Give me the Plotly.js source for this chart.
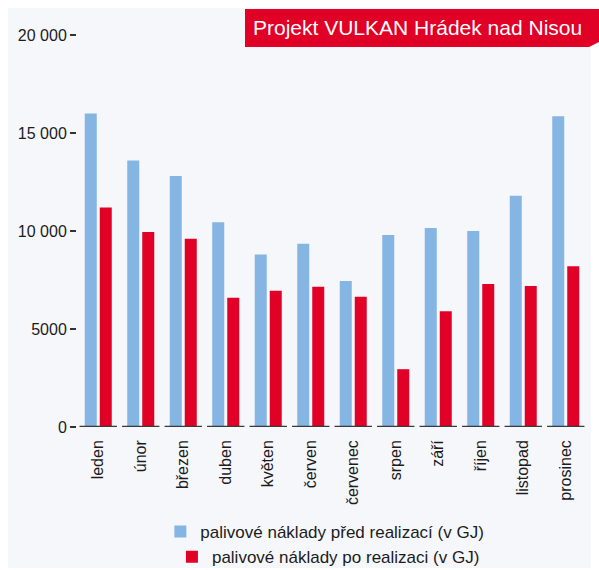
<!DOCTYPE html>
<html>
<head>
<meta charset="utf-8">
<script src="https://cdn.plot.ly/plotly-3.0.1.min.js"></script>
<style>
  html, body { margin: 0; padding: 0; background: #ffffff; }
  #panel { position: absolute; left: 8px; top: 8px; width: 583px; height: 560px; background: #f6f7fb; }
  #chart { position: absolute; left: 0; top: 0; width: 599px; height: 570px; }
</style>
</head>
<body>
<div id="panel"></div>
<div id="chart"></div>
<script>
const months = ["leden", "únor", "březen", "duben", "květen", "červen", "červenec", "srpen", "září", "říjen", "listopad", "prosinec"];
const before = [16000, 13600, 12800, 10450, 8800, 9350, 7450, 9800, 10150, 10000, 11800, 15850];
const after = [11200, 9950, 9600, 6600, 6950, 7150, 6650, 2950, 5900, 7300, 7200, 8200];
const yTickVals = [0, 5000, 10000, 15000, 20000];
const yTickText = ["0", "5000", "10 000", "15 000", "20 000"];
const seriesNames = ["palivové náklady před realizací (v GJ)", "palivové náklady po realizaci (v GJ)"];
const titleText = "Projekt VULKAN Hrádek nad Nisou";

const BLUE = "#84b5e3";
const RED = "#e10026";
const TEXT = "#1c1c1c";
const FONT = "Liberation Sans, Arial, sans-serif";

const traces = [
  { type: "bar", x: months, y: before, name: seriesNames[0], marker: { color: BLUE }, legend: "legend", hoverinfo: "x+y" },
  { type: "bar", x: months, y: after, name: seriesNames[1], marker: { color: RED }, legend: "legend2", hoverinfo: "x+y" }
];

// baseline segments under each category group
const shapes = months.map((m, i) => ({
  type: "line", xref: "x", yref: "y",
  x0: i - 0.44, x1: i + 0.44, y0: 0, y1: 0,
  line: { color: "#3a3a3a", width: 2.5 }, layer: "above"
}));

// banner behind the title
shapes.push({
  type: "path", xref: "paper", yref: "paper",
  path: "M0.3294,1.0663 L1.0431,1.0663 L1.0431,0.9949 L1.0039,0.9694 L0.3294,0.9694 Z",
  fillcolor: RED, line: { width: 0 }, layer: "below"
});

const layout = {
  width: 599, height: 570,
  margin: { l: 77, r: 12, t: 35, b: 143, autoexpand: false },
  paper_bgcolor: "rgba(0,0,0,0)",
  plot_bgcolor: "rgba(0,0,0,0)",
  font: { family: FONT, size: 16, color: TEXT },
  title: {
    text: titleText,
    font: { family: FONT, size: 21, color: "#ffffff" },
    x: 253 / 599, xref: "container", xanchor: "left",
    y: 1 - 28 / 570, yref: "container", yanchor: "middle"
  },
  barmode: "group",
  bargap: 0.294,
  bargroupgap: 0.2,
  xaxis: {
    type: "category",
    tickangle: -90,
    showgrid: false, showline: false, zeroline: false,
    ticks: "",
    ticklabelstandoff: 9,
    automargin: false,
    tickfont: { family: FONT, size: 16, color: TEXT },
    fixedrange: true
  },
  yaxis: {
    range: [0, 20000],
    tickvals: yTickVals, ticktext: yTickText,
    ticks: "outside", ticklen: 6, tickwidth: 1.5, tickcolor: "#333333",
    showgrid: false, showline: false, zeroline: false,
    automargin: false,
    tickfont: { family: FONT, size: 16, color: TEXT },
    fixedrange: true
  },
  showlegend: true,
  legend: {
    x: 0.486, xanchor: "center", y: -0.268, yanchor: "middle",
    bgcolor: "rgba(0,0,0,0)", font: { family: FONT, size: 17, color: TEXT },
    orientation: "v"
  },
  legend2: {
    x: 0.493, xanchor: "center", y: -0.332, yanchor: "middle",
    bgcolor: "rgba(0,0,0,0)", font: { family: FONT, size: 17, color: TEXT },
    orientation: "v"
  },
  shapes: shapes
};

Plotly.newPlot("chart", traces, layout, { displayModeBar: false, staticPlot: true });
</script>
</body>
</html>
